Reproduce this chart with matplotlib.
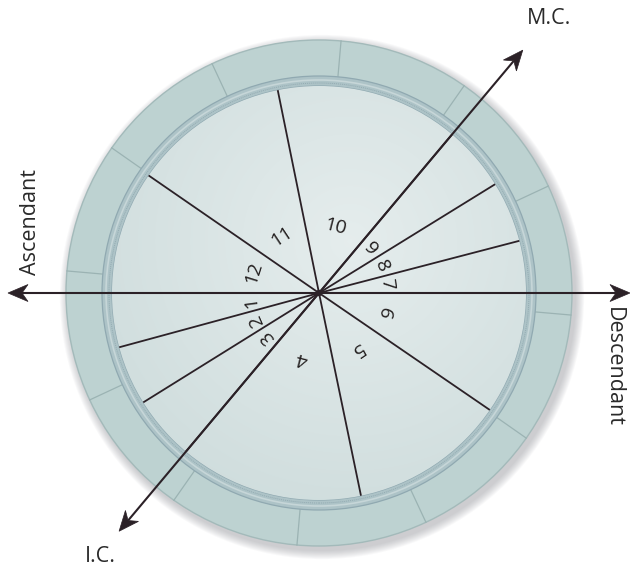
import numpy as np
import matplotlib
matplotlib.use("Agg")
import matplotlib.pyplot as plt
from matplotlib.patches import Circle, Wedge, Polygon

# ---- data ----
house_labels = ["1", "2", "3", "4", "5", "6", "7", "8", "9", "10", "11", "12"]
# starting cusp angle (degrees, counter-clockwise from the east) of each house
house_cusps = [180.0, 195.2, 211.9, 230.0, 281.7, 325.6, 0.0, 14.6, 31.7, 50.0, 101.5, 145.4]
# zodiac sign boundaries on the outer ring
sign_bounds = [25 + 30 * k for k in range(12)]
# angle axes
axis_names = ["Ascendant", "Descendant", "M.C.", "I.C."]
axis_angles = [180.0, 0.0, 50.0, 230.0]

# ---- style ----
R_OUT, R_BAND_O, R_BAND_I = 253, 217, 207
ink = "#2b2127"
plt.rcParams['font.family'] = ['Open Sans', 'DejaVu Sans']

fig = plt.figure(figsize=(6.3, 5.71), dpi=100)
ax = fig.add_axes([0, 0, 1, 1])
ax.set_xlim(-319, 311)
ax.set_ylim(-278, 293)
ax.set_aspect('equal')
ax.axis('off')

# soft shadow
for i in range(10):
    ax.add_patch(Circle((3, -4), R_OUT + 1 + i * 0.9, color="#7d7f86", alpha=0.045, lw=0, zorder=0))

# outer ring
ax.add_patch(Circle((0, 0), R_OUT, facecolor="#bdd2d1", edgecolor="#a3baba", lw=1.0, zorder=1))
for a in sign_bounds:
    t = np.radians(a)
    ax.plot([R_BAND_O * np.cos(t), R_OUT * np.cos(t)], [R_BAND_O * np.sin(t), R_OUT * np.sin(t)],
            color="#9bb3b3", lw=0.9, zorder=2)

# band
ax.add_patch(Wedge((0, 0), R_BAND_O, 0, 360, width=R_BAND_O - R_BAND_I,
                   facecolor="#adc3c7", edgecolor="#90a9b1", lw=0.9, zorder=2))
ax.add_patch(Circle((0, 0), (R_BAND_O + R_BAND_I) / 2 + 1, fill=False, edgecolor="#c6d6d8", lw=1.2, zorder=2))
ax.add_patch(Circle((0, 0), (R_BAND_O + R_BAND_I) / 2 - 2, fill=False, edgecolor="#93abb2", lw=0.7,
                    linestyle=(0, (1, 1)), zorder=2))

# inner disc with a gentle gradient
n = 400
yy, xx = np.mgrid[-1:1:n * 1j, -1:1:n * 1j]
rr = np.sqrt((xx - 0.15) ** 2 + (yy - 0.25) ** 2)
grad = np.clip(rr / 1.4, 0, 1)
c0 = np.array([0.90, 0.93, 0.93])
c1 = np.array([0.81, 0.865, 0.865])
img = c0[None, None, :] * (1 - grad[..., None]) + c1[None, None, :] * grad[..., None]
im = ax.imshow(img, extent=[-R_BAND_I, R_BAND_I, -R_BAND_I, R_BAND_I], origin='lower', zorder=3)
clip = Circle((0, 0), R_BAND_I, transform=ax.transData)
im.set_clip_path(clip)

# house cusps
for a in house_cusps:
    t = np.radians(a)
    ax.plot([0, R_BAND_I * np.cos(t)], [0, R_BAND_I * np.sin(t)], color=ink, lw=1.3, zorder=5,
            solid_capstyle='butt')

# house numbers
for i, lab in enumerate(house_labels):
    a0 = house_cusps[i]
    a1 = house_cusps[(i + 1) % 12]
    if a1 <= a0:
        a1 += 360
    mid = (a0 + a1) / 2
    t = np.radians(mid)
    r = 68
    ax.text(r * np.cos(t), r * np.sin(t), lab, rotation=mid - 90, rotation_mode='anchor',
            ha='center', va='center', fontsize=14, color="#221e1e", zorder=6)

# arrow axes
tip_len = {"Ascendant": 311, "Descendant": 311, "M.C.": 317, "I.C.": 311}

def arrow_head(ax_, ang, L):
    t = np.radians(ang)
    d = np.array([np.cos(t), np.sin(t)])
    p = np.array([-np.sin(t), np.cos(t)])
    tip = d * L
    hl, hw, notch = 20, 8.5, 14
    pts = [tip, tip - d * hl + p * hw, tip - d * notch, tip - d * hl - p * hw]
    ax_.add_patch(Polygon(pts, closed=True, facecolor=ink, edgecolor=ink, lw=0.5, zorder=7))
    return tip - d * notch

for name, ang in zip(axis_names, axis_angles):
    L = tip_len[name]
    end = arrow_head(ax, ang, L)
    ax.plot([0, end[0]], [0, end[1]], color=ink, lw=1.5, zorder=6, solid_capstyle='butt')

ax.add_patch(Circle((0, 0), 2.5, color=ink, zorder=8))

# axis labels
txt = dict(color="#2a2a2a", fontsize=15.5, zorder=9)
ax.text(-289, 71, "Ascendant", rotation=90, ha='center', va='center', **txt)
ax.text(294, -74, "Descendant", rotation=-90, ha='center', va='center', **txt)
ax.text(230, 274, "M.C.", ha='center', va='center', **txt)
ax.text(-219, -264, "I.C.", ha='center', va='center', **txt)

fig.savefig("out.png", dpi=100, facecolor="white")
